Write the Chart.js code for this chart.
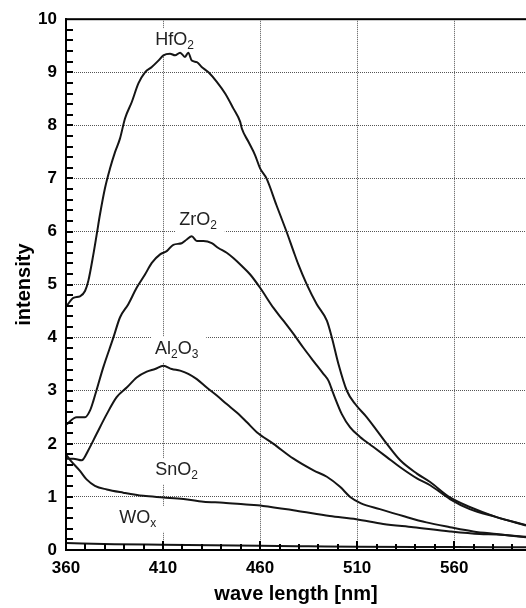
<!DOCTYPE html>
<html lang="en">
<head>
<meta charset="UTF-8" />
<title>Luminescence spectra</title>
<script src="https://cdn.jsdelivr.net/npm/chart.js"></script>
<style>
  html, body { margin: 0; padding: 0; background: #fff; }
  #wrap { width: 526px; height: 608px; }
</style>
</head>
<body>
<div id="wrap"><canvas id="spectra"></canvas></div>
<script>
// axis ticks
const xTicks = [360, 410, 460, 510, 560];
const xMin = 360, xMax = 597;
const yMinorStep = 0.2, xMinorStep = 10;

// HfO2
const hfWave = [360, 363.8, 367.2, 369.8, 371.5, 374.1, 375.8, 377.5, 380.1, 382.7, 385.3, 387.8, 390.4, 393.9, 397.3, 400.7, 404.2, 407.6, 410.2, 413.6, 416.2, 418.8, 421.3, 423, 424.8, 427.4, 429.9, 433.4, 437.7, 442, 446.2, 449.7, 450.6, 454, 457.4, 460, 463.3, 468.4, 473.6, 477.2, 479.7, 484.1, 489.2, 494.4, 497, 500.4, 504.7, 509, 515, 520.2, 525.3, 532.2, 540.8, 547.6, 557.8, 568, 581.8, 597];
const hfVal = [4.58, 4.75, 4.78, 4.88, 5.07, 5.57, 5.94, 6.32, 6.82, 7.19, 7.5, 7.75, 8.13, 8.44, 8.79, 9.0, 9.1, 9.22, 9.32, 9.35, 9.32, 9.37, 9.29, 9.37, 9.22, 9.19, 9.1, 9.0, 8.82, 8.6, 8.32, 8.07, 7.94, 7.69, 7.44, 7.19, 7.0, 6.5, 6.0, 5.63, 5.38, 5.0, 4.63, 4.32, 4.0, 3.5, 3.0, 2.75, 2.5, 2.25, 2.0, 1.69, 1.44, 1.28, 0.99, 0.81, 0.62, 0.47];

// ZrO2
const zrWave = [360, 365.5, 369.8, 372.4, 374.1, 379.2, 384.4, 387.8, 392.1, 396.4, 400.7, 404.2, 408.5, 411.9, 415.3, 419.6, 422.2, 424.8, 427.4, 430.8, 435.1, 438.5, 442.8, 446.2, 450.6, 454.9, 460, 466.9, 472, 477.2, 482.3, 487.5, 492.6, 495.2, 497.8, 502.1, 506.4, 511.5, 518.4, 525.3, 532.2, 540.8, 547.6, 557.8, 568, 581.8, 597];
const zrVal = [2.36, 2.5, 2.5, 2.63, 2.81, 3.44, 4.0, 4.38, 4.63, 4.94, 5.19, 5.41, 5.57, 5.63, 5.75, 5.78, 5.85, 5.91, 5.82, 5.82, 5.78, 5.69, 5.6, 5.5, 5.35, 5.19, 4.94, 4.56, 4.32, 4.07, 3.81, 3.56, 3.32, 3.19, 2.94, 2.56, 2.31, 2.13, 1.94, 1.75, 1.56, 1.35, 1.22, 0.96, 0.77, 0.62, 0.46];

// Al2O3
const alWave = [360, 363.8, 368.1, 371.5, 375.8, 381, 386.1, 391.3, 396.4, 401.6, 405.9, 410.2, 414.5, 418.8, 423, 427.4, 432.5, 437.7, 442.8, 448, 453.1, 458.3, 466.9, 477.2, 487.5, 494.4, 501.2, 506.4, 512, 521.7, 533.7, 545.7, 557.8, 569.8, 581.8, 597];
const alVal = [1.72, 1.72, 1.69, 1.88, 2.19, 2.56, 2.88, 3.06, 3.25, 3.36, 3.41, 3.47, 3.41, 3.38, 3.32, 3.22, 3.06, 2.91, 2.75, 2.59, 2.41, 2.22, 2.0, 1.72, 1.5, 1.38, 1.19, 1.0, 0.88, 0.77, 0.64, 0.52, 0.43, 0.35, 0.3, 0.24];

// SnO2
const snWave = [360, 362.5, 367.2, 370.6, 374.9, 381, 389.5, 399.8, 410.2, 420.5, 430.8, 441.1, 451.4, 461.5, 478.7, 495.9, 509.6, 523.4, 538.9, 557.8, 573.2, 581.8, 597];
const snVal = [1.8, 1.68, 1.49, 1.33, 1.21, 1.14, 1.08, 1.02, 0.99, 0.96, 0.91, 0.89, 0.86, 0.83, 0.74, 0.64, 0.58, 0.49, 0.43, 0.35, 0.3, 0.29, 0.25];

// WOx
const woWave = [360, 385, 410, 435, 460, 485, 510, 560, 597];
const woVal = [0.13, 0.11, 0.1, 0.09, 0.08, 0.07, 0.06, 0.055, 0.05];

// curve labels: text, subscript, anchor (wavelength, intensity at baseline)
const curveLabels = [
  { text: 'HfO', sub: '2', x: 416, y: 9.51 },
  { text: 'ZrO', sub: '2', x: 428, y: 6.13 },
  { text: 'Al', sub: '2', tail: 'O', sub2: '3', x: 417, y: 3.70 },
  { text: 'SnO', sub: '2', x: 417, y: 1.41 },
  { text: 'WO', sub: 'x', x: 397, y: 0.51 }
];

const pairs = (xs, ys) => xs.map((x, i) => ({ x: x, y: ys[i] }));
const series = [
  pairs(hfWave, hfVal),
  pairs(zrWave, zrVal),
  pairs(alWave, alVal),
  pairs(snWave, snVal),
  pairs(woWave, woVal)
];

Chart.defaults.font.family = '"Liberation Sans", Arial, sans-serif';
Chart.defaults.color = '#000';

// white boxes + text for the curve names
const labelPlugin = {
  id: 'curveLabels',
  beforeDatasetsDraw(chart) {
    const { ctx, scales: { x, y } } = chart;
    ctx.save();
    ctx.textBaseline = 'alphabetic';
    ctx.textAlign = 'left';
    curveLabels.forEach(l => {
      const parts = [[l.text, 18, 0], [l.sub, 12, 4]];
      if (l.tail) parts.push([l.tail, 18, 0], [l.sub2, 12, 4]);
      let w = 0;
      parts.forEach(p => { ctx.font = p[1] + 'px "Liberation Sans", Arial'; w += ctx.measureText(p[0]).width; });
      const cx = x.getPixelForValue(l.x);
      const by = y.getPixelForValue(l.y);
      let px = cx - w / 2;
      ctx.fillStyle = '#fff';
      ctx.fillRect(px - 4, by - 17, w + 12, 26);
      ctx.fillStyle = '#222';
      parts.forEach(p => {
        ctx.font = p[1] + 'px "Liberation Sans", Arial';
        ctx.fillText(p[0], px, by + p[2]);
        px += ctx.measureText(p[0]).width;
      });
    });
    ctx.restore();
  }
};

// solid frame and inward minor ticks
const framePlugin = {
  id: 'frame',
  afterDraw(chart) {
    const { ctx, chartArea: a, scales: { x, y } } = chart;
    ctx.save();
    ctx.fillStyle = '#000';
    const nY = Math.round((y.max - y.min) / yMinorStep);
    for (let i = 1; i < nY; i++) {
      const py = Math.round(y.getPixelForValue(y.min + i * yMinorStep));
      ctx.fillRect(a.left, py - 1, 7, 2);
    }
    const nX = Math.floor((xMax - xMin) / xMinorStep);
    for (let i = 1; i <= nX; i++) {
      const px = Math.round(x.getPixelForValue(xMin + i * xMinorStep));
      const len = i % 5 === 0 ? 9 : 6;
      ctx.fillRect(px - 1, a.bottom - len, 2, len);
    }
    // frame: top, left and bottom edges
    ctx.fillRect(a.left - 1, a.top - 1, a.right - a.left + 1, 2);
    ctx.fillRect(a.left - 1, a.top - 1, 2, a.bottom - a.top + 2);
    ctx.fillRect(a.left - 1, a.bottom - 1, a.right - a.left + 1, 2);
    ctx.restore();
  }
};

new Chart(document.getElementById('spectra'), {
  type: 'line',
  data: {
    datasets: series.map(d => ({
      data: d,
      borderColor: '#151515',
      borderWidth: 2,
      pointRadius: 0,
      cubicInterpolationMode: 'monotone',
      fill: false
    }))
  },
  options: {
    responsive: true,
    maintainAspectRatio: false,
    animation: false,
    layout: { padding: { top: 17, right: 0, bottom: 0, left: 0 } },
    plugins: { legend: { display: false }, tooltip: { enabled: false } },
    scales: {
      x: {
        type: 'linear',
        min: xMin,
        max: xMax,
        afterBuildTicks: s => { s.ticks = xTicks.map(v => ({ value: v })); },
        afterFit: s => { s.height = 58; },
        grid: { color: '#555', lineWidth: 1, drawTicks: false },
        border: { display: false, dash: [1, 1] },
        ticks: { font: { size: 17, weight: 'bold' }, padding: 8, maxRotation: 0 },
        title: {
          display: true,
          text: 'wave length [nm]',
          font: { size: 20, weight: 'bold' },
          padding: { top: 0, bottom: 2 }
        }
      },
      y: {
        min: 0,
        max: 10,
        afterFit: s => { s.width = 66; },
        grid: { color: '#555', lineWidth: 1, drawTicks: false },
        border: { display: false, dash: [1, 1] },
        ticks: { stepSize: 1, font: { size: 17, weight: 'bold' }, padding: 9 },
        title: {
          display: true,
          text: 'intensity',
          font: { size: 20, weight: 'bold' },
          padding: { top: 12, bottom: 0 }
        }
      }
    }
  },
  plugins: [labelPlugin, framePlugin]
});
</script>
</body>
</html>
